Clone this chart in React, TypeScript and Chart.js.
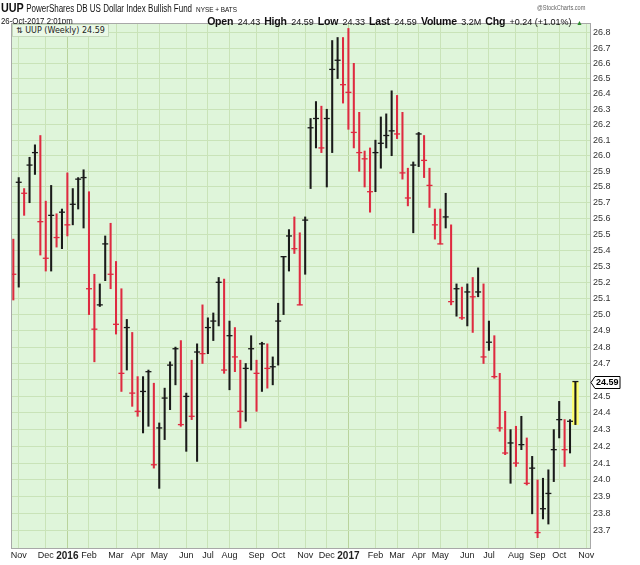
import React, { useEffect, useRef } from 'react';
import { Chart, registerables } from 'chart.js';
Chart.register(...registerables);

// Weekly UUP bars (index 0 = week of 26-Oct-2015 ... index 104 = week of 23-Oct-2017)
const highs = [
  25.47, 25.86, 25.79, 25.99, 26.07, 26.13, 25.71, 25.81, 25.63, 25.66,
  25.89, 25.79, 25.86, 25.91, 25.77, 25.25, 25.19, 25.49, 25.57, 25.33,
  25.16, 24.97, 24.89, 24.62, 24.62, 24.66, 24.58, 24.34, 24.55, 24.71,
  24.80, 24.84, 24.52, 24.72, 24.82, 25.06, 24.98, 25.01, 25.23, 25.22,
  24.96, 24.92, 24.72, 24.70, 24.87, 24.72, 24.83, 24.82, 24.74, 25.07,
  25.36, 25.53, 25.61, 25.51, 25.61, 26.24, 26.35, 26.32, 26.30, 26.75,
  26.77, 26.77, 26.83, 26.60, 26.28, 26.03, 26.05, 26.10, 26.25, 26.27,
  26.42, 26.39, 26.28, 25.92, 25.96, 26.15, 26.13, 25.92, 25.66, 25.66,
  25.76, 25.56, 25.19, 25.17, 25.19, 25.23, 25.29, 25.19, 24.96, 24.87,
  24.64, 24.41, 24.30, 24.32, 24.38, 24.25, 24.14, 24.00, 24.01, 24.06,
  24.30, 24.47, 24.36, 24.36, 24.59,
];
const lows = [
  25.09, 25.17, 25.62, 25.70, 25.88, 25.37, 25.27, 25.27, 25.42, 25.41,
  25.49, 25.56, 25.66, 25.54, 25.00, 24.71, 25.05, 25.21, 25.16, 24.88,
  24.53, 24.66, 24.44, 24.38, 24.28, 24.32, 24.07, 23.95, 24.24, 24.42,
  24.57, 24.32, 24.17, 24.36, 24.11, 24.70, 24.76, 24.84, 24.93, 24.64,
  24.54, 24.65, 24.31, 24.35, 24.66, 24.41, 24.53, 24.55, 24.57, 24.69,
  25.00, 25.27, 25.38, 25.06, 25.25, 25.79, 26.05, 26.02, 25.80, 26.02,
  26.50, 26.34, 26.17, 26.05, 25.90, 25.80, 25.64, 25.77, 25.92, 26.05,
  26.00, 26.11, 25.85, 25.68, 25.51, 25.93, 25.86, 25.67, 25.47, 25.44,
  25.54, 25.06, 24.99, 24.97, 24.93, 24.89, 25.11, 24.70, 24.78, 24.61,
  24.29, 24.15, 23.98, 24.08, 24.18, 23.97, 23.80, 23.66, 23.77, 23.74,
  23.99, 24.25, 24.08, 24.16, 24.33,
];
const closes = [
  25.25, 25.83, 25.76, 25.94, 26.02, 25.58, 25.35, 25.62, 25.48, 25.64,
  25.56, 25.69, 25.85, 25.86, 25.16, 24.91, 25.06, 25.44, 25.25, 24.94,
  24.64, 24.92, 24.52, 24.41, 24.53, 24.65, 24.09, 24.31, 24.49, 24.69,
  24.79, 24.33, 24.50, 24.38, 24.77, 24.76, 24.92, 24.96, 25.20, 24.66,
  24.87, 24.74, 24.41, 24.67, 24.79, 24.64, 24.82, 24.67, 24.68, 24.96,
  25.36, 25.49, 25.41, 25.06, 25.59, 26.18, 26.24, 26.05, 26.24, 26.56,
  26.62, 26.46, 26.41, 26.15, 26.02, 25.98, 25.77, 26.02, 26.08, 26.13,
  26.16, 26.14, 25.89, 25.73, 25.94, 26.14, 25.97, 25.81, 25.56, 25.44,
  25.61, 25.08, 25.16, 24.98, 25.14, 25.11, 25.14, 24.74, 24.83, 24.62,
  24.31, 24.16, 24.22, 24.10, 24.21, 23.98, 24.07, 23.69, 23.83, 23.92,
  24.18, 24.36, 24.18, 24.35, 24.59,
];
const priorClose = 25.30;

const monthTickIdx = [1, 6, 10, 14, 19, 23, 27, 32, 36, 40, 45, 49, 54, 58, 62, 67, 71, 75, 79, 84, 88, 93, 97, 101, 106];
const monthLabels = ['Nov', 'Dec', '2016', 'Feb', 'Mar', 'Apr', 'May', 'Jun', 'Jul', 'Aug', 'Sep', 'Oct', 'Nov', 'Dec', '2017', 'Feb', 'Mar', 'Apr', 'May', 'Jun', 'Jul', 'Aug', 'Sep', 'Oct', 'Nov'];
const yearLabels = ['2016', '2017'];

const priceTicks = [
  23.7, 23.8, 23.9, 24.0, 24.1, 24.2, 24.3, 24.4, 24.5, 24.6, 24.7, 24.8, 24.9, 25.0, 25.1, 25.2,
  25.3, 25.4, 25.5, 25.6, 25.7, 25.8, 25.9, 26.0, 26.1, 26.2, 26.3, 26.4, 26.5, 26.6, 26.7, 26.8,
];

const FONT = "'Liberation Sans', Arial, sans-serif";
const RED = '#de2a40';
const BLACK = '#1a1a1a';

export default function App() {
  const ref = useRef<HTMLCanvasElement | null>(null);

  useEffect(() => {
    const lastIdx = closes.length - 1;
    const colors = closes.map((c, i) => {
      const prev = i === 0 ? priorClose : closes[i - 1];
      return c >= prev ? BLACK : RED;
    });

    const bgPlugin = {
      id: 'bgPlugin',
      beforeDraw(chart: any) {
        const { ctx, chartArea: a } = chart;
        ctx.save();
        ctx.fillStyle = '#dff5da';
        ctx.fillRect(a.left, a.top, a.right - a.left, a.bottom - a.top);
        ctx.restore();
      },
      afterDraw(chart: any) {
        const { ctx, chartArea: a } = chart;
        ctx.save();
        ctx.strokeStyle = '#a8a8a8';
        ctx.lineWidth = 1;
        ctx.strokeRect(a.left + 0.5, a.top + 0.5, a.right - a.left, a.bottom - a.top);
        // last price marker
        const ys = chart.scales.y;
        const y = Math.round(ys.getPixelForValue(closes[lastIdx])) + 0.5;
        const x0 = a.right + 1;
        ctx.beginPath();
        ctx.moveTo(x0, y);
        ctx.lineTo(x0 + 4, y - 6);
        ctx.lineTo(x0 + 29, y - 6);
        ctx.lineTo(x0 + 29, y + 6);
        ctx.lineTo(x0 + 4, y + 6);
        ctx.closePath();
        ctx.fillStyle = '#ffffff';
        ctx.fill();
        ctx.strokeStyle = '#000';
        ctx.stroke();
        ctx.fillStyle = '#000';
        ctx.font = `bold 9px ${FONT}`;
        ctx.textBaseline = 'middle';
        ctx.textAlign = 'left';
        ctx.fillText(closes[lastIdx].toFixed(2), x0 + 5, y + 0.5);
        ctx.restore();
      },
    };

    const chart = new Chart(ref.current as HTMLCanvasElement, {
      type: 'bar',
      data: {
        datasets: [
          {
            type: 'scatter',
            data: closes.map((c, i) => ({ x: i, y: c })),
            pointStyle: 'line',
            pointRadius: 3,
            pointBorderWidth: 1.3,
            pointBorderColor: colors,
            pointBackgroundColor: colors,
            order: 0,
          } as any,
          {
            type: 'bar',
            data: highs.map((h, i) => ({ x: i, y: [lows[i], h] })),
            backgroundColor: colors,
            barThickness: 1.4,
            grouped: false,
            borderWidth: 0,
            order: 1,
          } as any,
          {
            type: 'bar',
            data: [{ x: lastIdx, y: [lows[lastIdx], highs[lastIdx]] }],
            backgroundColor: '#ffff6e',
            barThickness: 6,
            grouped: false,
            borderWidth: 0,
            order: 2,
          } as any,
        ],
      },
      options: {
        animation: false,
        responsive: false,
        devicePixelRatio: 1,
        layout: { padding: { left: 11, top: 23, right: 0, bottom: 0 } },
        plugins: { legend: { display: false }, tooltip: { enabled: false } },
        scales: {
          x: {
            type: 'linear',
            min: -0.43,
            max: 106.7,
            offset: false,
            grid: {
              offset: false,
              drawTicks: false,
              color: (ctx: any) => {
                const i = monthTickIdx.indexOf(ctx.tick?.value);
                return i >= 0 && yearLabels.includes(monthLabels[i]) ? '#b9d39c' : '#c9e3b8';
              },
            },
            border: { display: false },
            afterBuildTicks: (s: any) => {
              s.ticks = monthTickIdx.map((v) => ({ value: v }));
            },
            afterFit: (s: any) => {
              s.height = 17;
            },
            ticks: {
              autoSkip: false,
              maxRotation: 0,
              padding: 2,
              color: '#222',
              font: (ctx: any) => {
                const i = monthTickIdx.indexOf(ctx.tick?.value);
                const yr = i >= 0 && yearLabels.includes(monthLabels[i]);
                return { family: FONT, size: yr ? 10 : 9, weight: yr ? 'bold' : 'normal' };
              },
              callback: (_v: any, i: number) => monthLabels[i],
            },
          },
          y: {
            type: 'logarithmic',
            position: 'right',
            min: 23.631,
            max: 26.866,
            grid: { drawTicks: false, color: '#c9e3b8' },
            border: { display: false },
            afterBuildTicks: (s: any) => {
              s.ticks = priceTicks.map((v) => ({ value: v }));
            },
            afterFit: (s: any) => {
              s.width = 50;
            },
            ticks: {
              autoSkip: false,
              padding: 3,
              color: '#333',
              font: { family: FONT, size: 9 },
              callback: (_v: any, i: number) => (priceTicks[i] === 24.6 ? '' : priceTicks[i].toFixed(1)),
            },
          },
        },
      } as any,
      plugins: [bgPlugin],
    });
    return () => chart.destroy();
  }, []);

  const label = { fontWeight: 'bold' as const, fontSize: 10.5, letterSpacing: '-0.2px' };
  const val = { fontSize: 9, marginRight: 4 };

  return (
    <div style={{ position: 'absolute', left: 0, top: 0, width: 640, height: 565, background: '#fff', fontFamily: FONT, color: '#111' }}>
      <canvas ref={ref} width={640} height={565} style={{ position: 'absolute', left: 0, top: 0 }} />
      <div style={{ position: 'absolute', left: 1, top: 1, whiteSpace: 'nowrap', fontSize: 10, lineHeight: '14px', transform: 'scaleX(0.8)', transformOrigin: 'left top' }}>
        <span style={{ fontWeight: 'bold', fontSize: 13.5, marginRight: 3 }}>UUP</span>
        PowerShares DB US Dollar Index Bullish Fund
        <span style={{ fontSize: 8, marginLeft: 5 }}>NYSE + BATS</span>
      </div>
      <div style={{ position: 'absolute', left: 537, top: 4, fontSize: 7, color: '#666', whiteSpace: 'nowrap', transform: 'scaleX(0.8)', transformOrigin: 'left top' }}>@StockCharts.com</div>
      <div style={{ position: 'absolute', left: 1, top: 16, fontSize: 8.5, whiteSpace: 'nowrap', lineHeight: '10px', transform: 'scaleX(0.92)', transformOrigin: 'left top' }}>26-Oct-2017 2:01pm</div>
      <div style={{ position: 'absolute', right: 57, top: 14, whiteSpace: 'nowrap', lineHeight: '11px' }}>
        <span style={label}>Open</span> <span style={val}>24.43</span>
        <span style={label}>High</span> <span style={val}>24.59</span>
        <span style={label}>Low</span> <span style={val}>24.33</span>
        <span style={label}>Last</span> <span style={val}>24.59</span>
        <span style={label}>Volume</span> <span style={val}>3.2M</span>
        <span style={label}>Chg</span> <span style={{ fontSize: 9 }}>+0.24 (+1.01%)</span>{' '}
        <span style={{ fontSize: 7, color: '#2a8a2a' }}>▲</span>
      </div>
      <div style={{ position: 'absolute', left: 12, top: 24, padding: '0 3px', height: 11, lineHeight: '11px', background: '#eaf8e6', border: '1px solid #c4d9bb', fontFamily: "'DejaVu Sans', sans-serif", fontSize: 8, whiteSpace: 'nowrap', color: '#222' }}>
        ⇅ UUP (Weekly) 24.59
      </div>
    </div>
  );
}
